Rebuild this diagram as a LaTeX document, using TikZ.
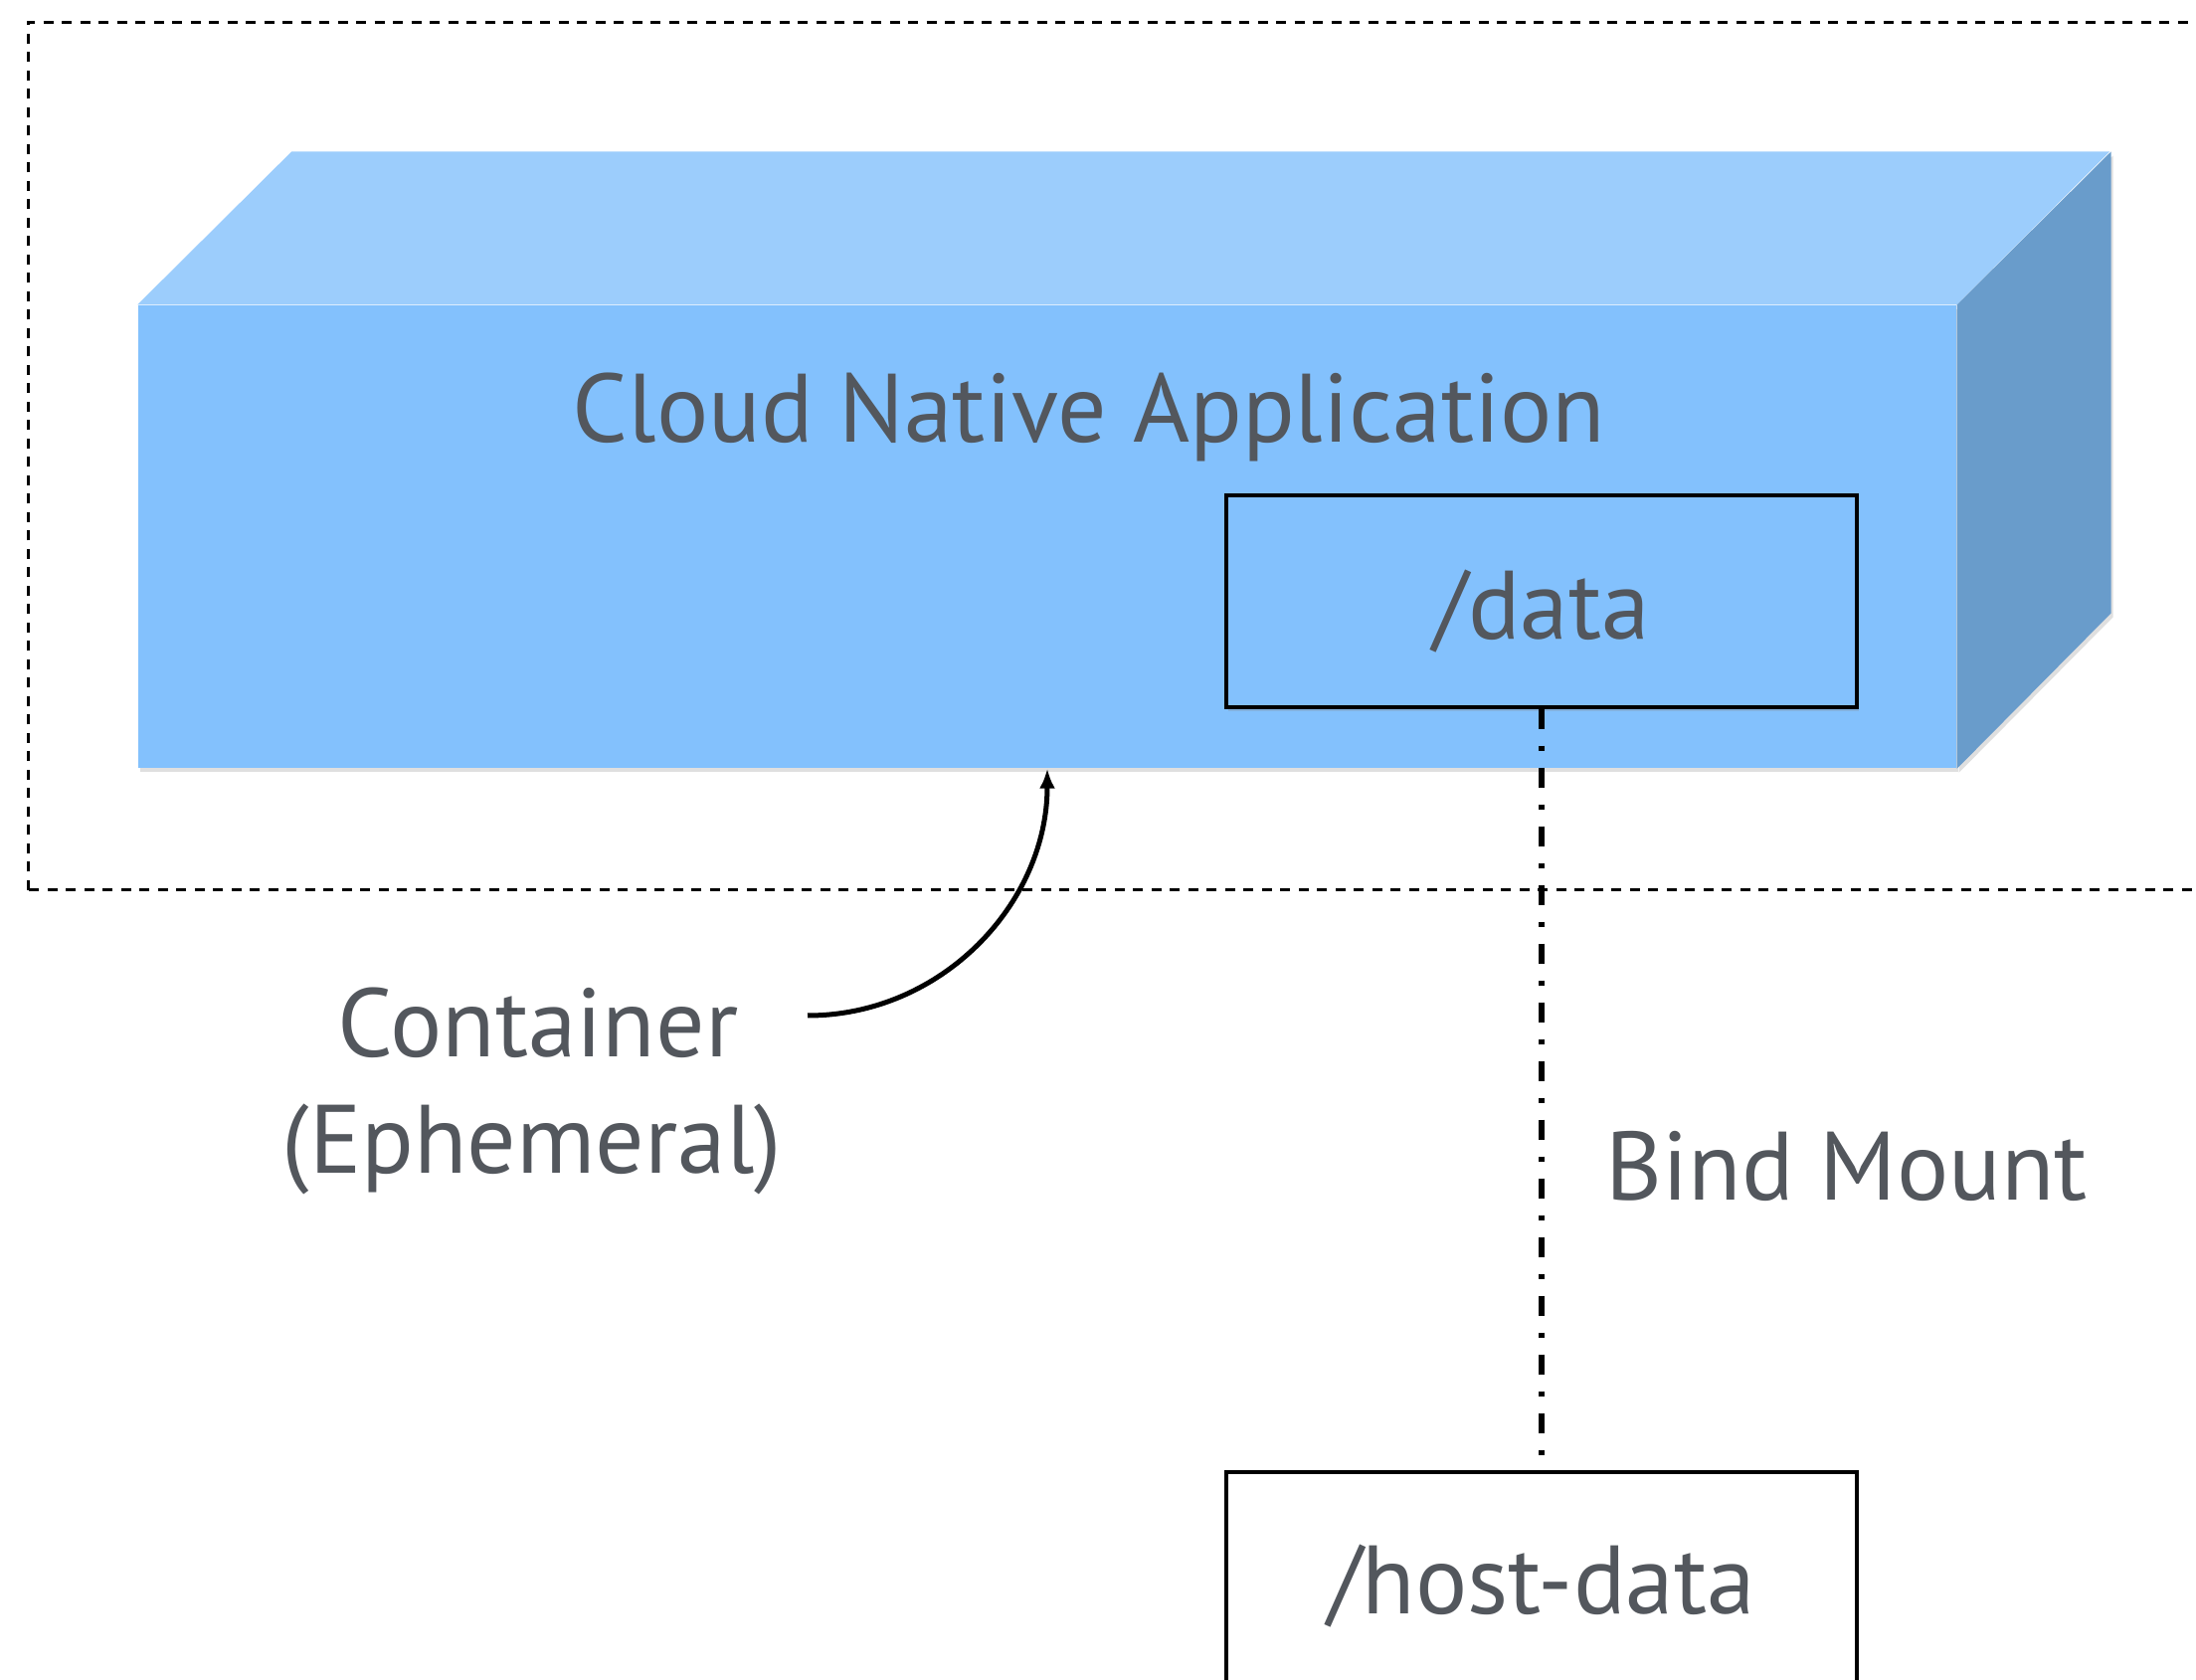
\documentclass[tikz,border=0pt]{standalone}
\usepackage{fontspec}
\setmainfont{PT Sans}
\usetikzlibrary{arrows.meta,shadows}
\definecolor{frontblue}{HTML}{83C1FD}
\definecolor{topblue}{HTML}{9CCDFC}
\definecolor{sideblue}{HTML}{699CCB}
\definecolor{textgray}{HTML}{53575D}
\tikzset{
  labeltext/.style={text=textgray, font=\fontsize{27.8}{34}\selectfont},
  softshadow/.style={drop shadow={opacity=0.25, shadow xshift=0.02cm, shadow yshift=-0.04cm}},
  mountbox/.style={draw=black, line width=0.035cm, minimum width=6.34cm, minimum height=2.13cm, inner sep=0, labeltext, softshadow},
}
\begin{document}
\begin{tikzpicture}
			%%%%% FRAME %%%%%
			\clip (0,0) rectangle (22.08,16.88);
			\draw[line width=0.03cm, dash pattern=on 0.1cm off 0.085cm] (0.28,7.93) rectangle (22.6,16.655);
			
			%%%%% CUBE %%%%%
			\node[fill=frontblue, minimum width=18.28cm, minimum height=4.65cm, inner sep=0, softshadow] (app) at (10.53,11.485) {};
			\fill[topblue] (app.north west) -- ++(1.55,1.54) -- ++(18.28,0) -- (app.north east) -- cycle;
			\fill[sideblue, softshadow] (app.north east) -- ++(1.55,1.54) -- ++(0,-4.64) -- (app.south east) -- cycle;
			\node[labeltext] (apptitle) at (10.95,12.69) {Cloud Native Application};
			
			%%%%% MOUNT %%%%%
			\node[mountbox, fill=frontblue, text height=0.9cm] (data) at (15.50,10.835) {/data};
			\node[mountbox, fill=white, minimum height=2.3cm] (host) at (15.50,0.93) {/host-data};
			\draw[line width=0.06cm, dash pattern=on 0.2cm off 0.17cm on 0.05cm off 0.17cm] (data.south) -- (host.north);
			\node[labeltext, anchor=west] (bind) at (16.02,5.16) {Bind Mount};
			
			%%%%% CONTAINER %%%%%
			\node[labeltext] (cont) at (5.41,6.6) {Container};
			\node[labeltext] (eph) at (5.35,5.33) {(Ephemeral)};
			\coordinate (tail) at (8.12,6.67);
			\draw[line width=0.05cm, -{Latex[length=0.2cm,width=0.16cm]}] (tail) to[out=0,in=-90] (app.south);
			
			%%%%% END %%%%%
\end{tikzpicture}
\end{document}
